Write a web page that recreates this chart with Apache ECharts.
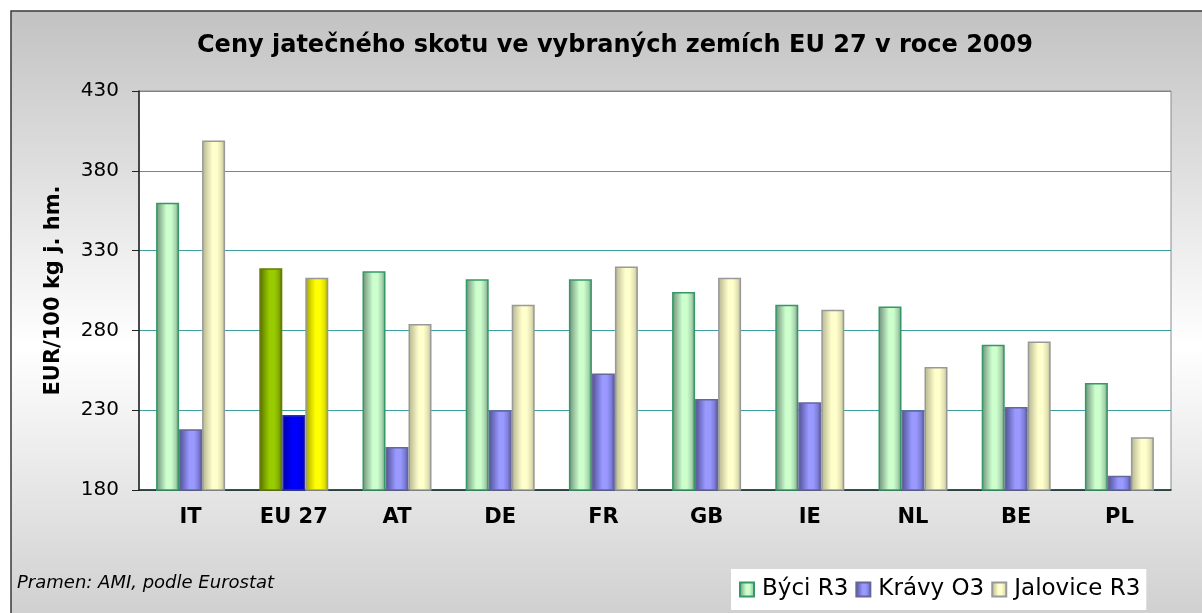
<!DOCTYPE html>
<html>
<head>
<meta charset="utf-8">
<title>Ceny jatečného skotu</title>
<script src="https://cdn.jsdelivr.net/npm/echarts@6/dist/echarts.min.js"></script>
<style>
  html, body { margin: 0; padding: 0; background: #fff; }
  #chart { width: 1202px; height: 613px; }
</style>
</head>
<body>
<div id="chart"></div>
<script>
const countries = ['IT', 'EU 27', 'AT', 'DE', 'FR', 'GB', 'IE', 'NL', 'BE', 'PL']
const byci = [360, 319, 317, 312, 312, 304, 296, 295, 271, 247]
const kravy = [218, 227, 207, 230, 253, 237, 235, 230, 232, 189]
const jalovice = [399, 313, 284, 296, 320, 313, 293, 257, 273, 213]
const legendNames = ['Býci R3', 'Krávy O3', 'Jalovice R3']
const yTicks = [180, 230, 280, 330, 380, 430]

const font = 'DejaVu Sans'

// horizontal "cylinder" shading like the excel bars
const shade = (edge, mid, light) => new echarts.graphic.LinearGradient(0, 0, 1, 0, [
  { offset: 0, color: edge },
  { offset: 0.28, color: mid },
  { offset: 0.45, color: light },
  { offset: 0.65, color: light },
  { offset: 0.85, color: mid },
  { offset: 1, color: edge }
])

const styles = [
  { color: shade('#6e8f76', '#a8d4ae', '#ccffcc'), borderColor: '#339966', borderWidth: 1.5 },
  { color: shade('#50508f', '#7c7cd8', '#9999ff'), borderColor: '#666699', borderWidth: 1.5 },
  { color: shade('#b4b48e', '#e2e2b4', '#ffffcc'), borderColor: '#999999', borderWidth: 1.5 }
]
// EU 27 is highlighted in the original
const euStyles = [
  { color: shade('#4f6a00', '#82ad00', '#99cc00'), borderColor: '#6b7a00', borderWidth: 1.5 },
  { color: shade('#0000a0', '#0000e0', '#0000ff'), borderColor: '#333399', borderWidth: 1.5 },
  { color: shade('#a0a000', '#e0e000', '#ffff00'), borderColor: '#999999', borderWidth: 1.5 }
]

const chart = echarts.init(document.getElementById('chart'))

const series = [byci, kravy, jalovice].map((values, i) => ({
  name: legendNames[i],
  type: 'bar',
  barWidth: 23,
  barGap: '0%',
  itemStyle: styles[i],
  data: values.map((v, idx) => idx === 1 ? { value: v, itemStyle: euStyles[i] } : v)
}))

chart.setOption({
  backgroundColor: '#ffffff',
  animation: false,
  textStyle: { fontFamily: font },
  graphic: [
    {
      type: 'rect',
      z: -100,
      shape: { x: 11, y: 11, width: 1210, height: 620 },
      style: {
        fill: new echarts.graphic.LinearGradient(0, 0, 0, 1, [
          { offset: 0, color: '#c2c2c2' },
          { offset: 0.54, color: '#ffffff' },
          { offset: 1, color: '#cdcdcd' }
        ]),
        stroke: '#3a3a3a',
        lineWidth: 1.5
      }
    },
    {
      type: 'text',
      left: 17,
      top: 574,
      style: {
        text: 'Pramen: AMI, podle Eurostat',
        font: 'italic 18px "DejaVu Sans"',
        fill: '#000'
      }
    }
  ],
  title: {
    text: 'Ceny jatečného skotu ve vybraných zemích EU 27 v roce 2009',
    left: 197,
    top: 34,
    padding: 0,
    textStyle: { fontFamily: font, fontSize: 24, fontWeight: 'bold', color: '#000' }
  },
  legend: {
    data: legendNames,
    left: 731,
    top: 569,
    padding: [9, 6, 9, 8],
    backgroundColor: '#ffffff',
    itemGap: 7,
    itemWidth: 14,
    itemHeight: 14,
    icon: 'rect',
    textStyle: { fontFamily: font, fontSize: 23, color: '#000', padding: [0, 0, 0, 3] }
  },
  grid: {
    left: 139,
    right: 31,
    top: 91,
    bottom: 123,
    show: true,
    backgroundColor: '#ffffff',
    borderColor: '#8a8a8a',
    borderWidth: 1
  },
  xAxis: {
    type: 'category',
    data: countries,
    axisLine: { lineStyle: { color: '#222', width: 1.5 } },
    axisTick: { length: 7, lineStyle: { color: '#222' } },
    axisLabel: { margin: 17, fontFamily: font, fontSize: 21, fontWeight: 'bold', color: '#000' }
  },
  yAxis: {
    type: 'value',
    min: yTicks[0],
    max: yTicks[yTicks.length - 1],
    interval: 50,
    name: 'EUR/100 kg j. hm.',
    nameLocation: 'middle',
    nameRotate: 90,
    nameGap: 75,
    nameTextStyle: { fontFamily: font, fontSize: 21, fontWeight: 'bold', color: '#000' },
    axisLine: { show: true, lineStyle: { color: '#222', width: 1.5 } },
    axisTick: { show: true, length: 7, lineStyle: { color: '#222' } },
    axisLabel: { margin: 20, fontFamily: font, fontSize: 20, color: '#000' },
    splitLine: { lineStyle: { color: '#3d9f9f', width: 1 } }
  },
  series: series
})
</script>
</body>
</html>
